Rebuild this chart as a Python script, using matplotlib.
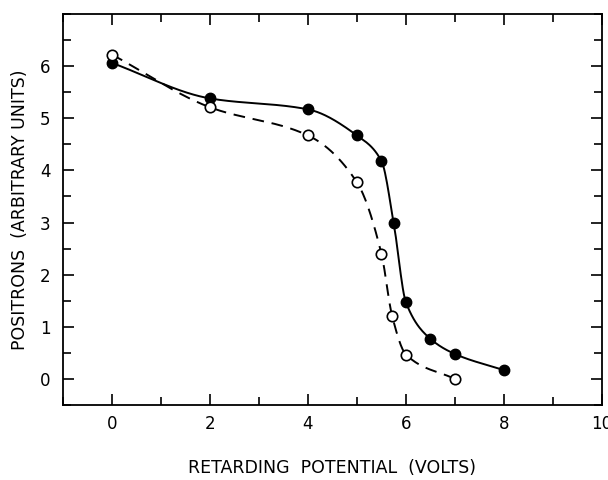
import numpy as np
import matplotlib.pyplot as plt
from matplotlib.ticker import MultipleLocator

# retarding potential (volts) and positron counts
v_filled = [0, 2, 4, 5, 5.5, 5.75, 6, 6.5, 7, 8]
p_filled = [6.06, 5.38, 5.17, 4.67, 4.18, 2.99, 1.47, 0.77, 0.48, 0.17]

v_open = [0, 2, 4, 5, 5.5, 5.72, 6, 7]
p_open = [6.22, 5.21, 4.67, 3.77, 2.4, 1.2, 0.47, 0.0]


def pchip(x, y, n=400):
    # monotone cubic (Fritsch-Carlson) so the hand-drawn curve goes through the points
    x = np.asarray(x, float)
    y = np.asarray(y, float)
    h = np.diff(x)
    d = np.diff(y) / h
    m = np.zeros_like(y)
    m[0], m[-1] = d[0], d[-1]
    for k in range(1, len(x) - 1):
        if d[k - 1] * d[k] > 0:
            w1 = 2 * h[k] + h[k - 1]
            w2 = h[k] + 2 * h[k - 1]
            m[k] = (w1 + w2) / (w1 / d[k - 1] + w2 / d[k])
    xs = np.linspace(x[0], x[-1], n)
    idx = np.clip(np.searchsorted(x, xs) - 1, 0, len(x) - 2)
    t = (xs - x[idx]) / h[idx]
    h00 = 2 * t**3 - 3 * t**2 + 1
    h10 = t**3 - 2 * t**2 + t
    h01 = -2 * t**3 + 3 * t**2
    h11 = t**3 - t**2
    ys = h00 * y[idx] + h10 * h[idx] * m[idx] + h01 * y[idx + 1] + h11 * h[idx] * m[idx + 1]
    return xs, ys


fig = plt.figure(figsize=(6.08, 4.8), dpi=100)
ax = fig.add_axes([0.1036, 0.156, 0.8864, 0.815])

xs, ys = pchip(v_filled, p_filled)
ax.plot(xs, ys, color='black', lw=1.4)
xs, ys = pchip(v_open, p_open)
ax.plot(xs, ys, color='black', lw=1.4, ls=(0, (6, 4)))

ax.plot(v_filled, p_filled, 'o', color='black', ms=7.5, zorder=3)
ax.plot(v_open, p_open, 'o', mfc='white', mec='black', mew=1.2, ms=7.5, zorder=3)

ax.set_xlim(-1, 10)
ax.set_ylim(-0.5, 7)
ax.xaxis.set_major_locator(MultipleLocator(2))
ax.xaxis.set_minor_locator(MultipleLocator(1))
ax.yaxis.set_major_locator(MultipleLocator(1))
ax.yaxis.set_minor_locator(MultipleLocator(0.5))
ax.set_yticks(range(0, 7))
ax.tick_params(which='both', direction='in', top=True, right=True, width=1.2, labelsize=12)
ax.tick_params(which='major', length=8)
ax.tick_params(which='minor', length=6)
ax.tick_params(axis='x', pad=7)
ax.tick_params(axis='y', pad=9)
for s in ax.spines.values():
    s.set_linewidth(1.3)

ax.set_xlabel('RETARDING  POTENTIAL  (VOLTS)', fontsize=12.5, labelpad=19)
ax.set_ylabel('POSITRONS  (ARBITRARY UNITS)', fontsize=12.5, labelpad=8)

fig.savefig('out.png', dpi=100)
